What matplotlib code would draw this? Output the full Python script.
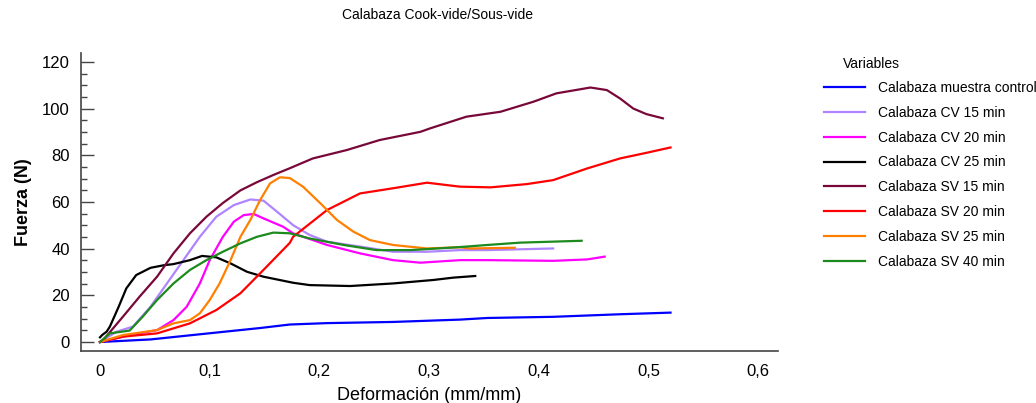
import matplotlib
matplotlib.use("Agg")
import matplotlib.pyplot as plt
from matplotlib.ticker import MultipleLocator, FuncFormatter

plt.rcParams["font.family"] = ["Liberation Sans", "DejaVu Sans"]

# Fuerza (N) vs deformación (mm/mm)
control_x = [0, 0.046, 0.103, 0.146, 0.173, 0.207, 0.267, 0.328, 0.353, 0.413, 0.474, 0.520]
control_y = [0, 1.1, 3.9, 6.0, 7.5, 8.1, 8.6, 9.6, 10.3, 10.8, 11.9, 12.6]

cv15_x = [0, 0.015, 0.030, 0.046, 0.061, 0.076, 0.091, 0.106, 0.122, 0.137, 0.149,
          0.161, 0.176, 0.191, 0.207, 0.237, 0.267, 0.298, 0.328, 0.353, 0.413]
cv15_y = [0, 4.4, 6.6, 15.1, 25.1, 35.1, 45.1, 53.7, 58.7, 61.1, 60.6,
          56.0, 50.1, 45.9, 43.0, 40.9, 38.7, 38.7, 39.4, 39.4, 40.1]

cv20_x = [0, 0.021, 0.036, 0.052, 0.067, 0.079, 0.091, 0.100, 0.112, 0.122, 0.131,
          0.140, 0.149, 0.167, 0.176, 0.207, 0.237, 0.267, 0.292, 0.328, 0.353,
          0.413, 0.444, 0.460]
cv20_y = [0, 2.3, 3.7, 5.1, 9.4, 15.1, 25.1, 35.1, 45.1, 51.6, 54.4,
          54.9, 53.0, 49.4, 46.6, 41.6, 38.0, 35.1, 34.0, 35.1, 35.1,
          34.8, 35.4, 36.6]

cv25_x = [0, 0.002, 0.006, 0.009, 0.017, 0.024, 0.033, 0.046, 0.058, 0.067, 0.082,
          0.093, 0.106, 0.119, 0.134, 0.149, 0.176, 0.191, 0.228, 0.267, 0.304,
          0.322, 0.342]
cv25_y = [2.0, 3.0, 4.4, 6.6, 15.1, 23.0, 28.7, 31.8, 32.9, 33.4, 35.1,
          36.9, 36.3, 33.7, 30.1, 28.0, 25.4, 24.4, 24.0, 25.1, 26.6,
          27.6, 28.3]

sv15_x = [0, 0.003, 0.021, 0.036, 0.052, 0.067, 0.082, 0.097, 0.112, 0.128, 0.143,
          0.158, 0.173, 0.194, 0.225, 0.255, 0.292, 0.301, 0.334, 0.365, 0.395,
          0.416, 0.447, 0.462, 0.474, 0.486, 0.498, 0.513]
sv15_y = [0, 0.9, 10.9, 19.4, 28.0, 38.0, 46.6, 53.7, 59.6, 65.0, 68.5,
          71.6, 74.5, 78.7, 82.3, 86.6, 90.1, 91.6, 96.6, 98.7, 103.0,
          106.6, 109.1, 108.0, 104.4, 100.1, 97.7, 95.9]

sv20_x = [0, 0.021, 0.052, 0.082, 0.106, 0.128, 0.149, 0.173, 0.176, 0.207, 0.237,
          0.267, 0.298, 0.328, 0.356, 0.389, 0.413, 0.444, 0.474, 0.498, 0.520]
sv20_y = [0, 2.3, 3.7, 8.0, 13.7, 20.9, 30.9, 42.5, 45.1, 56.6, 63.7,
          65.9, 68.3, 66.6, 66.3, 67.7, 69.4, 74.4, 78.7, 81.1, 83.4]

sv25_x = [0, 0.021, 0.052, 0.067, 0.082, 0.091, 0.100, 0.109, 0.119, 0.128, 0.137,
          0.146, 0.155, 0.164, 0.173, 0.185, 0.201, 0.216, 0.231, 0.246, 0.267,
          0.298, 0.328, 0.337, 0.378]
sv25_y = [0, 3.0, 5.1, 8.0, 9.4, 12.3, 18.0, 25.1, 35.1, 45.1, 52.3,
          60.9, 68.0, 70.6, 70.3, 66.6, 59.4, 52.3, 47.3, 43.7, 41.6,
          40.1, 40.6, 40.1, 40.4]

sv40_x = [0, 0.009, 0.027, 0.039, 0.052, 0.067, 0.082, 0.097, 0.112, 0.128, 0.143,
          0.158, 0.173, 0.191, 0.222, 0.252, 0.283, 0.328, 0.353, 0.383, 0.439]
sv40_y = [0, 3.7, 4.9, 10.9, 18.0, 25.1, 30.9, 35.1, 38.7, 42.3, 45.1,
          46.9, 46.6, 44.4, 41.6, 39.4, 39.4, 40.7, 41.6, 42.6, 43.4]

labels = ["Calabaza muestra control", "Calabaza CV 15 min", "Calabaza CV 20 min",
          "Calabaza CV 25 min", "Calabaza SV 15 min", "Calabaza SV 20 min",
          "Calabaza SV 25 min", "Calabaza SV 40 min"]
colors = ["#0000FF", "#B084FF", "#FF00FF", "#000000",
          "#78083A", "#FF0000", "#FF8000", "#1C8A1C"]
series = [(control_x, control_y), (cv15_x, cv15_y), (cv20_x, cv20_y), (cv25_x, cv25_y),
          (sv15_x, sv15_y), (sv20_x, sv20_y), (sv25_x, sv25_y), (sv40_x, sv40_y)]

fig = plt.figure(figsize=(10.36, 4.03), dpi=100)
ax = fig.add_axes([0.0782, 0.129, 0.6728, 0.7395])

for (x, y), c, lab in zip(series, colors, labels):
    ax.plot(x, y, color=c, lw=1.6, label=lab)

ax.set_xlim(-0.0173, 0.618)
ax.set_ylim(-3.86, 123.9)
ax.xaxis.set_major_locator(MultipleLocator(0.1))
ax.yaxis.set_major_locator(MultipleLocator(20))
ax.yaxis.set_minor_locator(MultipleLocator(5))
ax.xaxis.set_major_formatter(FuncFormatter(lambda v, p: ("%g" % round(v, 1)).replace(".", ",")))

for s in ("top", "right"):
    ax.spines[s].set_visible(False)
for s in ("left", "bottom"):
    ax.spines[s].set_color("#444444")
    ax.spines[s].set_linewidth(1.2)

ax.tick_params(axis="x", length=0, pad=9, labelsize=12)
ax.tick_params(axis="y", which="major", direction="in", length=9.5, width=1.0,
               color="#444444", pad=8, labelsize=12)
ax.tick_params(axis="y", which="minor", direction="in", length=4.5, width=1.0,
               color="#444444")

ax.set_xlabel("Deformación (mm/mm)", fontsize=13, labelpad=6)
ax.set_ylabel("Fuerza (N)", fontsize=13, fontweight="bold", labelpad=7)

fig.text(0.422, 0.962, "Calabaza Cook-vide/Sous-vide", ha="center", va="center", fontsize=10)
fig.text(843 / 1036, 1 - 64 / 403, "Variables", ha="left", va="center", fontsize=10)

fig.legend(loc="upper left", bbox_to_anchor=(824 / 1036, 1 - 81 / 403), frameon=False,
           fontsize=10, handlelength=2.95, handletextpad=0.95, labelspacing=0.78,
           borderpad=0, borderaxespad=0)

fig.savefig("out.png", dpi=100)
